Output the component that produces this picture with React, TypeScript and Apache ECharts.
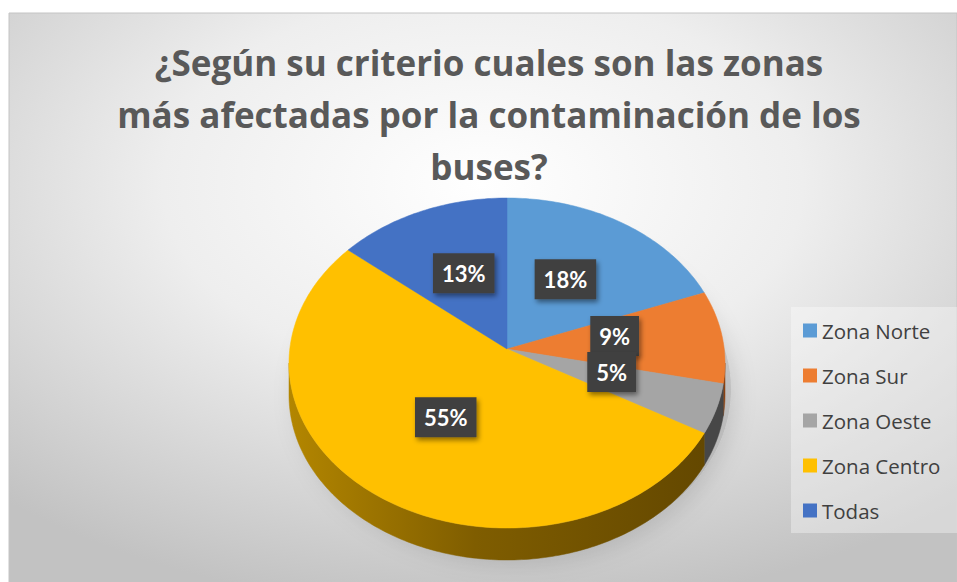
import React, { useEffect, useRef } from "react";
import * as echarts from "echarts";

const categories = ["Zona Norte", "Zona Sur", "Zona Oeste", "Zona Centro", "Todas"];
const values = [18, 9, 5, 55, 13];
const topColors = ["#5B9BD5", "#ED7D31", "#A5A5A5", "#FFC000", "#4472C4"];
const sideColors = ["#2f6597", "#8a4212", "#474747", "#7f5e00", "#27457d"];
const titleText = "¿Según su criterio cuales son las zonas\nmás afectadas por la contaminación de los\nbuses?";

// pie geometry (layout only)
const CX = 507;
const APEX_Y = 349;
const ECY = 363;
const RX = 218;
const RY = 165;
const DEPTH = 32;

const total = values.reduce((a, b) => a + b, 0);

function pt(deg: number, dy: number): number[] {
  const r = (deg * Math.PI) / 180;
  return [CX + RX * Math.sin(r), ECY - RY * Math.cos(r) + dy];
}

function arc(a0: number, a1: number, dy: number): number[][] {
  const n = Math.max(2, Math.ceil(Math.abs(a1 - a0)));
  const out: number[][] = [];
  for (let k = 0; k <= n; k++) out.push(pt(a0 + ((a1 - a0) * k) / n, dy));
  return out;
}

function sliceSeries(i: number) {
  return {
    type: "custom",
    name: categories[i],
    coordinateSystem: "none",
    itemStyle: { color: topColors[i] },
    data: [{ value: values[i], name: categories[i] }],
    renderItem: (_params: any, api: any) => {
      const before = values.slice(0, i).reduce((a, b) => a + b, 0);
      const a0 = (before / total) * 360;
      const a1 = a0 + (api.value(0) / total) * 360;
      const children: any[] = [];
      const s = Math.max(a0, 90);
      const e = Math.min(a1, 270);
      if (e > s) {
        const top = arc(s, e, 0);
        const bot = arc(e, s, DEPTH);
        const fill =
          i === 3
            ? new echarts.graphic.LinearGradient(0, 0, 1, 0, [
                { offset: 0, color: "#b38600" },
                { offset: 0.45, color: "#7f5d00" },
                { offset: 1, color: "#644800" },
              ])
            : sideColors[i];
        children.push({
          type: "polygon",
          shape: { points: top.concat(bot) },
          style: { fill, stroke: fill, lineWidth: 0.5 },
        });
      }
      children.push({
        type: "polygon",
        shape: { points: [[CX, APEX_Y]].concat(arc(a0, a1, 0)) },
        style: { fill: topColors[i], stroke: topColors[i], lineWidth: 0.5 },
      });
      return { type: "group", children };
    },
  };
}

export default function App() {
  const ref = useRef<HTMLDivElement>(null);
  useEffect(() => {
    document.body.style.margin = "0";
    const chart = echarts.init(ref.current!, undefined, { renderer: "svg" });
    const labelSeries = {
      type: "custom",
      name: "labels",
      coordinateSystem: "none",
      z: 10,
      data: values.map((v, i) => ({ value: v, name: categories[i] })),
      renderItem: (params: any, api: any) => {
        const i = params.dataIndex;
        const before = values.slice(0, i).reduce((a, b) => a + b, 0);
        const mid = ((before + api.value(0) / 2) / total) * 360;
        const r = (mid * Math.PI) / 180;
        const x = CX + 0.5 * RX * Math.sin(r);
        const y = APEX_Y - 0.5 * RY * Math.cos(r);
        return {
          type: "text",
          x,
          y,
          z2: 10,
          style: {
            text: Math.round((api.value(0) / total) * 100) + "%",
            fill: "#ffffff",
            font: "bold 22px Lato",
            lineHeight: 22,
            align: "center",
            verticalAlign: "middle",
            backgroundColor: "#404040",
            padding: [9, 9, 9, 9],
            shadowBlur: 5,
            shadowColor: "rgba(0,0,0,0.45)",
            shadowOffsetX: 2,
            shadowOffsetY: 3,
          },
        };
      },
    };
    chart.setOption({
      animation: false,
      graphic: [
        {
          type: "rect",
          z: -10,
          shape: { x: 9, y: 13, width: 948, height: 570 },
          style: {
            fill: new echarts.graphic.RadialGradient(0.5, 0.3, 0.75, [
              { offset: 0, color: "#ffffff" },
              { offset: 0.45, color: "#eeeeee" },
              { offset: 1, color: "#c2c2c2" },
            ]),
            stroke: "#c4c4c4",
            lineWidth: 1,
          },
        },
        {
          type: "ellipse",
          z: -5,
          shape: { cx: CX + 4, cy: ECY + DEPTH - 6, rx: RX + 2, ry: RY + 4 },
          style: {
            fill: "rgba(150,150,150,0.35)",
            shadowBlur: 22,
            shadowColor: "rgba(0,0,0,0.35)",
            shadowOffsetX: 4,
            shadowOffsetY: 6,
          },
        },
        {
          type: "rect",
          z: -5,
          shape: { x: 791, y: 307, width: 166, height: 226 },
          style: { fill: "rgba(255,255,255,0.35)" },
        },
        {
          type: "text",
          z: 5,
          x: 489,
          y: 36,
          style: {
            text: titleText,
            fill: "#595959",
            font: "bold 35px 'Open Sans'",
            lineHeight: 52,
            align: "center",
            verticalAlign: "top",
          },
        },
      ],
      legend: {
        orient: "vertical",
        left: 798,
        top: 315,
        itemWidth: 14,
        itemHeight: 14,
        itemGap: 24,
        icon: "rect",
        selectedMode: false,
        data: categories,
        textStyle: { color: "#404040", fontSize: 20.5, fontFamily: "Open Sans", lineHeight: 20 },
      },
      series: [...categories.map((_, i) => sliceSeries(i)), labelSeries],
    });
    return () => chart.dispose();
  }, []);
  return <div ref={ref} style={{ width: 957, height: 582 }} />;
}
